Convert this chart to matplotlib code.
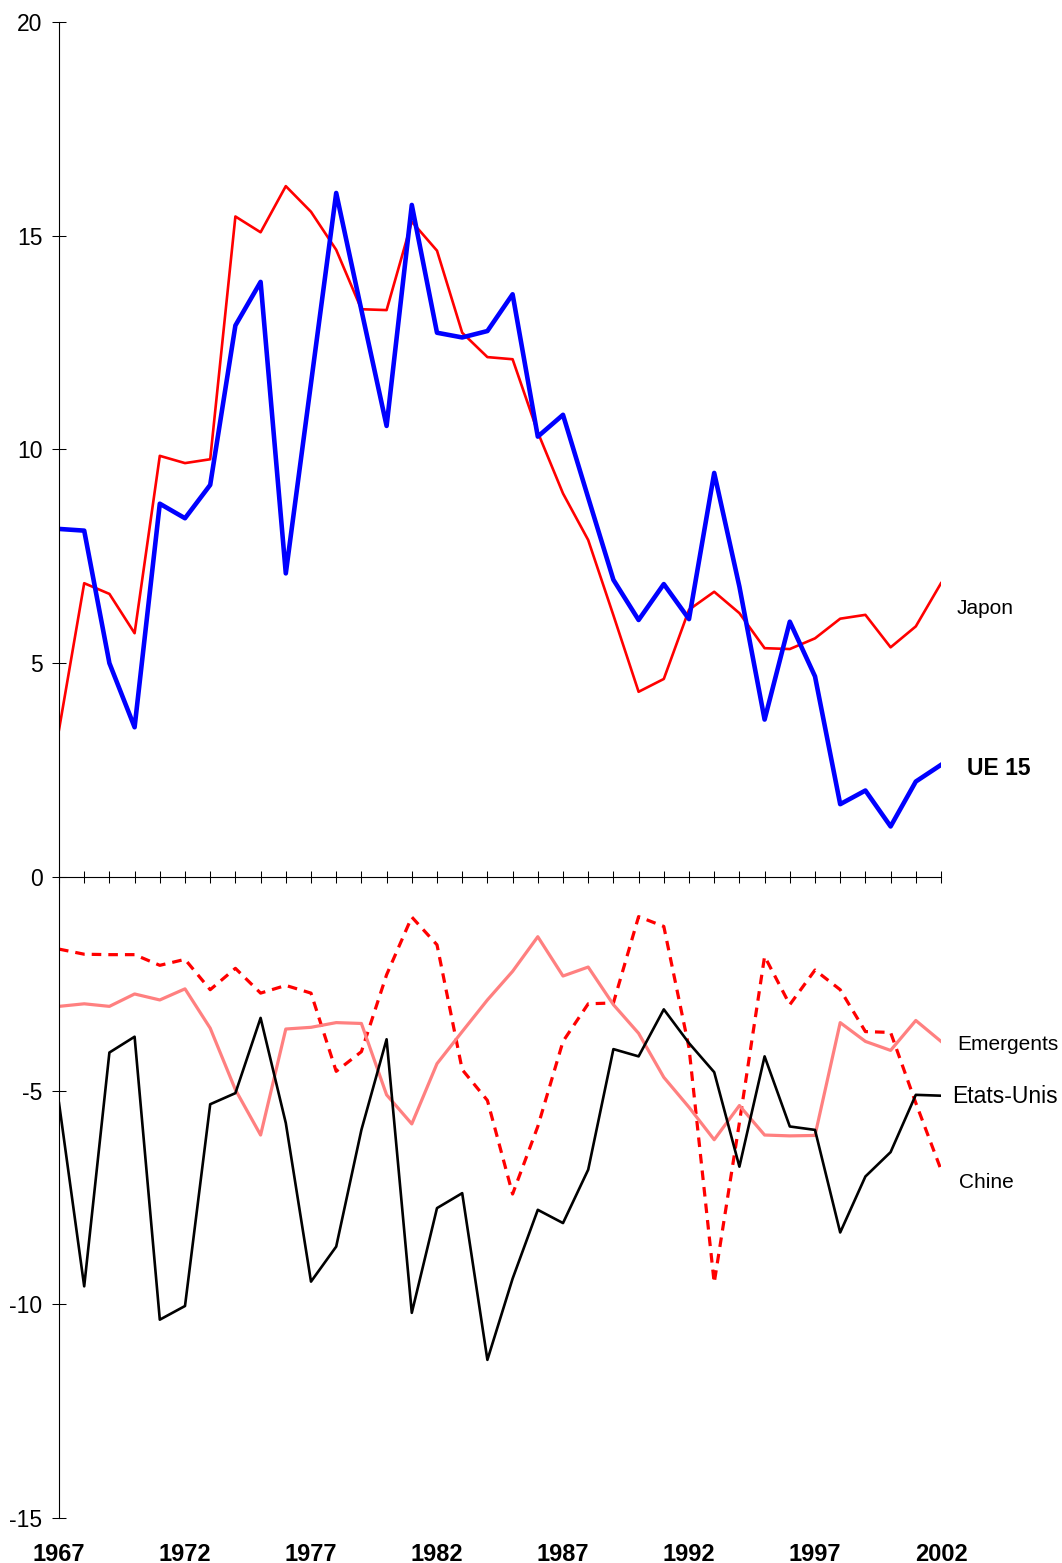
import matplotlib
matplotlib.use("Agg")
import matplotlib.pyplot as plt

# ==========================
# DATA
# ==========================

years = list(range(1967, 2003))

ue15 = [8.14, 8.10, 5.00, 3.50, 8.73, 8.39, 9.17, 12.90, 13.92, 7.10,
        11.55, 16.00, 13.26, 10.55, 15.72, 12.73, 12.62, 12.77, 13.63, 10.30,
        10.81, 8.87, 6.95, 6.01, 6.85, 6.03, 9.45, 6.79, 3.68, 5.97,
        4.69, 1.70, 2.02, 1.18, 2.23, 2.62]

japon = [3.44, 6.87, 6.62, 5.70, 9.85, 9.68, 9.77, 15.45, 15.08, 16.16,
         15.56, 14.67, 13.28, 13.26, 15.33, 14.65, 12.73, 12.16, 12.11, 10.40,
         8.97, 7.88, 6.12, 4.33, 4.63, 6.25, 6.67, 6.17, 5.35, 5.33,
         5.58, 6.04, 6.13, 5.37, 5.86, 6.87]

etats_unis = [-5.29, -9.58, -4.11, -3.74, -10.36, -10.04, -5.32, -5.06, -3.30, -5.76,
              -9.47, -8.65, -5.92, -3.80, -10.20, -7.75, -7.40, -11.30, -9.40, -7.79,
              -8.10, -6.85, -4.03, -4.20, -3.10, -3.89, -4.57, -6.78, -4.20, -5.84,
              -5.92, -8.32, -7.01, -6.44, -5.10, -5.12]

emergents = [-3.03, -2.97, -3.03, -2.74, -2.88, -2.62, -3.54, -4.98, -6.04, -3.56,
             -3.52, -3.41, -3.43, -5.10, -5.78, -4.37, -3.62, -2.88, -2.21, -1.40,
             -2.32, -2.11, -2.99, -3.66, -4.69, -5.39, -6.15, -5.35, -6.04, -6.06,
             -6.05, -3.41, -3.85, -4.06, -3.36, -3.85]

chine = [-1.69, -1.81, -1.82, -1.82, -2.07, -1.93, -2.64, -2.14, -2.72, -2.54,
         -2.72, -4.55, -4.09, -2.29, -0.94, -1.59, -4.51, -5.23, -7.42, -5.84,
         -3.85, -2.97, -2.95, -0.93, -1.16, -4.00, -9.50, -5.75, -1.86, -2.99,
         -2.18, -2.64, -3.62, -3.64, -5.29, -6.85]

y_ticks = [-15, -10, -5, 0, 5, 10, 15, 20]
x_label_years = [1967, 1972, 1977, 1982, 1987, 1992, 1997, 2002]

# ==========================
# STYLE
# ==========================

plt.rcParams["font.family"] = ["Liberation Sans", "DejaVu Sans"]

fig = plt.figure(figsize=(10.62, 15.63), dpi=100)
ax = fig.add_axes([59 / 1062, 45 / 1563, 882 / 1062, 1496 / 1563])

# ==========================
# LINES
# ==========================

ax.plot(years, chine, color="#FF0000", lw=2.3, linestyle=(0, (3, 2.2)))
ax.plot(years, emergents, color="#FF8080", lw=2.3)
ax.plot(years, etats_unis, color="black", lw=1.9)
ax.plot(years, japon, color="#FF0000", lw=1.9)
ax.plot(years, ue15, color="#0000FF", lw=3.3)

# ==========================
# SERIES LABELS
# ==========================

ax.text(2002.63, 6.15, "Japon", fontsize=15, va="baseline")
ax.text(2003.03, 2.39, "UE 15", fontsize=16.5, fontweight="bold", va="baseline")
ax.text(2002.63, -4.05, "Emergents", fontsize=15, va="baseline")
ax.text(2002.44, -5.29, "Etats-Unis", fontsize=16.5, va="baseline")
ax.text(2002.71, -7.28, "Chine", fontsize=15, va="baseline")

# ==========================
# AXES
# ==========================

ax.set_xlim(1967, 2002)
ax.set_ylim(-15, 20)

ax.spines["top"].set_visible(False)
ax.spines["right"].set_visible(False)
ax.spines["bottom"].set_position(("data", 0))
ax.spines["bottom"].set_linewidth(0.8)
ax.spines["left"].set_linewidth(0.8)

ax.set_xticks(years)
ax.tick_params(axis="x", direction="inout", length=8.6, width=0.75,
               labelbottom=False)

ax.set_yticks(y_ticks)
ax.set_yticklabels([str(v) for v in y_ticks])
ax.tick_params(axis="y", direction="inout", length=9.5, width=0.75,
               pad=7.2, labelsize=16.5)

sec = ax.secondary_xaxis("bottom")
sec.spines["bottom"].set_visible(False)
sec.set_xticks(x_label_years)
sec.set_xticklabels([str(y) for y in x_label_years],
                    fontsize=17, fontweight="bold")
sec.tick_params(axis="x", length=0, pad=18)

fig.savefig("out.png", dpi=100)
plt.close()
